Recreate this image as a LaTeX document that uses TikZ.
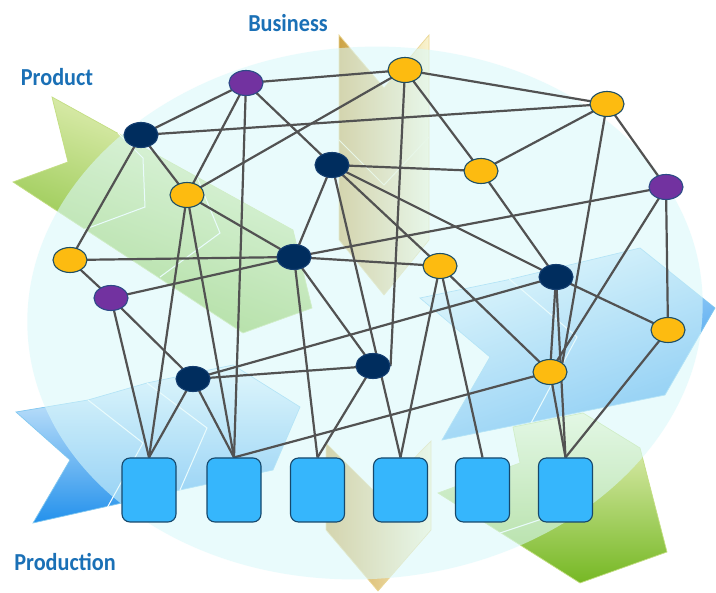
\documentclass[tikz,border=0pt]{standalone}
\usepackage{fontspec}
\newfontfamily\lblfont{Carlito}
\usetikzlibrary{shapes.geometric}
\pgfdeclarelayer{bgA}
\pgfdeclarelayer{bgB}
\pgfsetlayers{bgA,bgB,main}
\definecolor{edgegray}{RGB}{82,82,82}
\definecolor{nodeyellow}{RGB}{253,187,16}
\definecolor{nodepurple}{RGB}{114,50,160}
\definecolor{nodedark}{RGB}{0,45,94}
\definecolor{ylwborder}{RGB}{30,78,100}
\definecolor{prpborder}{RGB}{45,75,135}
\definecolor{drkborder}{RGB}{20,62,112}
\definecolor{sqfill}{RGB}{54,182,252}
\definecolor{sqborder}{RGB}{22,72,108}
\definecolor{lblblue}{RGB}{26,112,182}
\definecolor{ovl}{RGB}{218,249,251}
\definecolor{grnpale}{RGB}{240,246,200}
\definecolor{grnstrong}{RGB}{118,184,36}
\definecolor{grnedge}{RGB}{195,222,130}
\definecolor{blupale}{RGB}{232,245,253}
\definecolor{blustrong}{RGB}{35,145,236}
\definecolor{bluedge}{RGB}{130,200,240}
\definecolor{tanA}{RGB}{205,163,70}
\definecolor{tanB}{RGB}{250,244,208}
\definecolor{tanedge}{RGB}{235,215,150}
\tikzset{
  nd/.style={ellipse, minimum width=34pt, minimum height=25pt, inner sep=0pt, line width=1.1pt},
  ylw/.style={nd, fill=nodeyellow, draw=ylwborder},
  prp/.style={nd, fill=nodepurple, draw=prpborder},
  drk/.style={nd, fill=nodedark, draw=drkborder},
  sqbox/.style={rectangle, rounded corners=8pt, minimum width=54pt, minimum height=64pt, inner sep=0pt, fill=sqfill, draw=sqborder, line width=1.1pt},
  lnk/.style={draw=edgegray, line width=2.2pt},
  lbl/.style={text=lblblue, font=\lblfont\bfseries\fontsize{24.4}{28}\selectfont, inner sep=0pt},
  layerline/.style={draw=white, line width=1pt}
}
\begin{document}
\begin{tikzpicture}[x=1pt,y=-1pt]
\useasboundingbox (0,0) rectangle (716,593);

% ---------- nodes ----------
\node[prp] (P1) at (246,83) {};
\node[ylw] (Y1) at (405,70) {};
\node[ylw] (Y2) at (607,104) {};
\node[drk] (D1) at (141,135) {};
\node[drk] (D2) at (332,165) {};
\node[ylw] (Y3) at (481,171) {};
\node[prp] (P2) at (666,187) {};
\node[ylw] (Y4) at (187,195) {};
\node[ylw] (Y5) at (70,260) {};
\node[drk] (D3) at (294,257) {};
\node[ylw] (Y6) at (440,266) {};
\node[drk] (D4) at (556,277) {};
\node[prp] (P3) at (111,298) {};
\node[ylw] (Y7) at (668,330) {};
\node[drk] (D5) at (193,379) {};
\node[drk] (D6) at (373,366) {};
\node[ylw] (Y8) at (550,372) {};

\node[sqbox] (S1) at (149,490) {};
\node[sqbox] (S2) at (234,490) {};
\node[sqbox] (S3) at (317.5,490) {};
\node[sqbox] (S4) at (400.5,490) {};
\node[sqbox] (S5) at (482.5,490) {};
\node[sqbox] (S6) at (565.5,490) {};

% ---------- labels ----------
\node[lbl] (tBus) at (288,23) {\scalebox{0.91}[1]{Business}};
\node[lbl] (tProd) at (57,77) {\scalebox{0.91}[1]{Product}};
\node[lbl] (tProdn) at (65,562) {\scalebox{0.91}[1]{Production}};

% ---------- background arrows and ellipse ----------
\begin{pgfonlayer}{bgA}
  \fill[white] (0,0) rectangle (716,593);
  % Product (green, upper left)
  \path[top color=grnpale, bottom color=grnstrong, shading angle=-20, draw=grnedge, line width=0.7pt]
    (52,97) -- (293,230) -- (312,308) -- (243,333) -- (13,182) -- (68,162) -- cycle;
  \draw[layerline] (118,133) -- (143,158) -- (145,207) -- (83,230);
  \draw[layerline] (197,177) -- (220,233) -- (160,277);
  % Business (tan, top)
  \path[left color=tanA, right color=tanB, draw=tanedge, line width=0.7pt]
    (339,35) -- (384,88) -- (429,35) -- (429,240) -- (384,295) -- (339,240) -- cycle;
  \draw[draw=tanB, line width=1pt] (339,140) -- (384,185) -- (429,137);
  % Business (tan, bottom)
  \path[left color=tanA, right color=tanB, draw=tanedge, line width=0.7pt]
    (326,443) -- (378,495) -- (431,441) -- (431,530) -- (378,591) -- (326,530) -- cycle;
  % Production (blue, lower left)
  \path[top color=blupale, bottom color=blustrong, draw=bluedge, line width=0.7pt]
    (16,412) -- (88,400) -- (147,383) -- (233,365) -- (300,407) -- (273,470) -- (180,490) -- (33,523) -- (70,460) -- cycle;
  \draw[layerline] (88,400) -- (143,443) -- (107,508);
  \draw[layerline] (147,383) -- (207,428) -- (180,490);
  % Right (blue)
  \path[top color=blupale, bottom color=blustrong, shading angle=20, draw=bluedge, line width=0.7pt]
    (420,298) -- (507,280) -- (640,248) -- (715,308) -- (665,395) -- (442,440) -- (490,357) -- cycle;
  \draw[layerline] (507,277) -- (577,337) -- (530,425);
  % Bottom right (green)
  \path[top color=grnpale, bottom color=grnstrong, draw=grnedge, line width=0.7pt]
    (438,493) -- (520,463) -- (513,427) -- (583,413) -- (640,448) -- (667,552) -- (580,583) -- cycle;
  \draw[layerline] (500,533) -- (545,518);
  % translucent ellipse over the arrows
  \fill[ovl, fill opacity=0.58, rotate around={4:(365,313)}] (365,313) ellipse [x radius=338pt, y radius=266pt];
\end{pgfonlayer}

% ---------- connectors ----------
\begin{pgfonlayer}{bgB}
  \foreach \a/\b in {P1/Y1, P1/D1, P1/Y4, P1/D2, D1/Y2, D1/Y4, D1/Y5, Y4/Y1, Y4/D3,
                     Y5/D3, Y5/P3, P3/D3, D3/P2, P3/D5, D5/D4, D5/D6, D2/Y3, D2/D3,
                     D2/Y6, D2/D4, D3/Y6, D3/D6, Y6/Y8, Y3/D4, D4/Y8, D4/Y7, P2/Y8,
                     P2/Y7, P2/Y2, Y2/Y1, Y2/Y3, Y3/Y1}
    \draw[lnk] (\a.center) -- (\b.center);
  \draw[lnk] (Y1.center) -- (D6.east);
  \draw[lnk] (Y2.center) -- (Y8.north east);
  \foreach \a/\b in {P1/S2, Y4/S1, Y4/S2, P3/S1, D5/S1, D5/S2, D3/S3, D6/S3, D2/S4,
                     Y6/S4, Y8/S2, Y6/S5, D4/S6, Y8/S6, Y7/S6}
    \draw[lnk] (\a.center) -- (\b.north);
\end{pgfonlayer}
\end{tikzpicture}
\end{document}
